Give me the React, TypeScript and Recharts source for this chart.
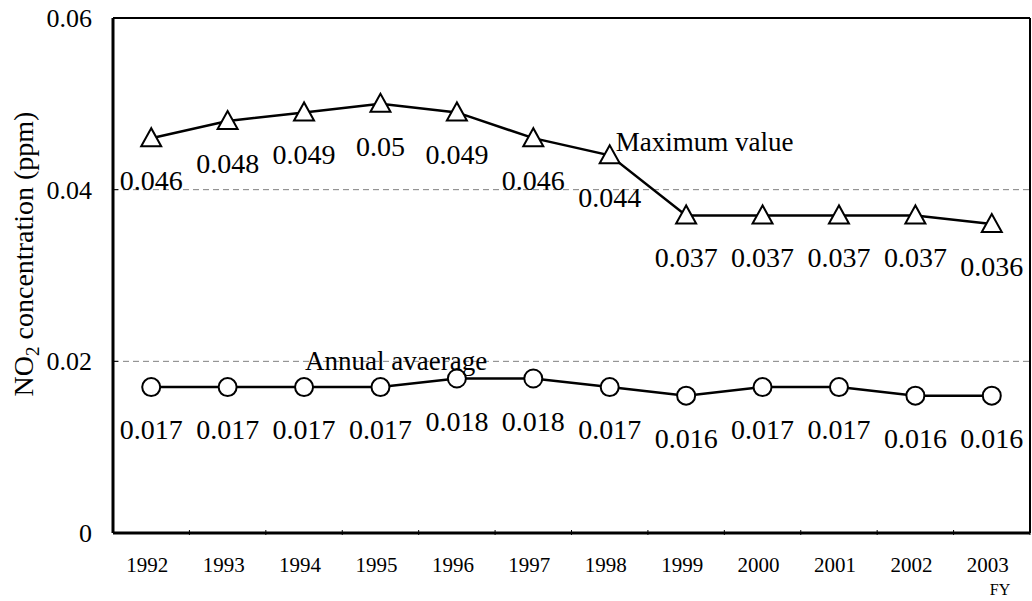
import React from 'react';
import {
  LineChart, Line, XAxis, YAxis, ReferenceLine, ReferenceDot, LabelList, Label,
} from 'recharts';

const categories = ['1992', '1993', '1994', '1995', '1996', '1997', '1998', '1999', '2000', '2001', '2002', '2003'];
const maxValues = [0.046, 0.048, 0.049, 0.05, 0.049, 0.046, 0.044, 0.037, 0.037, 0.037, 0.037, 0.036];
const avgValues = [0.017, 0.017, 0.017, 0.017, 0.018, 0.018, 0.017, 0.016, 0.017, 0.017, 0.016, 0.016];
const yTicks = [0, 0.02, 0.04, 0.06];
const yTickLabels = ['0', '0.02', '0.04', '0.06'];
const gridValues = [0.02, 0.04];
const maxSeriesName = 'Maximum value';
const avgSeriesName = 'Annual avaerage';
const yTitleMain = 'NO';
const yTitleSub = '2';
const yTitleRest = ' concentration (ppm)';
const xUnit = 'FY';

const data = categories.map((c, i) => ({ year: c, max: maxValues[i], avg: avgValues[i] }));

const W = 1032;
const H = 601;
const FONT = '"Liberation Serif", "Times New Roman", serif';
const LEFT = 113;
const RIGHT_W = 2;
const TOP_H = 18;
const PLOT_W = W - LEFT - RIGHT_W;
const HALF_BAND = PLOT_W / categories.length / 2;

const XTick = (props: any) => {
  const { x, y, payload } = props;
  const bx = x + HALF_BAND;
  return (
    <g>
      <line x1={bx} x2={bx} y1={y} y2={y - 5} stroke="#000" strokeWidth={1} />
      <text x={x - 4} y={y + 37} textAnchor="middle" fontFamily={FONT} fontSize={21} fill="#000">
        {payload.value}
      </text>
    </g>
  );
};

const YTick = (props: any) => {
  const { x, y, payload } = props;
  const idx = yTicks.indexOf(payload.value);
  const label = idx >= 0 ? yTickLabels[idx] : String(payload.value);
  return (
    <g>
      <line x1={LEFT} x2={LEFT + 5} y1={y} y2={y} stroke="#000" strokeWidth={1} />
      <text x={x} y={y + 9} textAnchor="end" fontFamily={FONT} fontSize={26} fill="#000">
        {label}
      </text>
    </g>
  );
};

const Triangle = (props: any) => {
  const { cx, cy } = props;
  if (cx == null || cy == null) return null;
  return (
    <polygon
      points={`${cx},${cy - 10} ${cx - 10},${cy + 8} ${cx + 10},${cy + 8}`}
      fill="#fff"
      stroke="#000"
      strokeWidth={2}
    />
  );
};

const Circle = (props: any) => {
  const { cx, cy } = props;
  if (cx == null || cy == null) return null;
  return <circle cx={cx} cy={cy} r={9} fill="#fff" stroke="#000" strokeWidth={2} />;
};

const ValueLabel = (props: any) => {
  const { x, y, value } = props;
  return (
    <text x={x} y={y + 52} textAnchor="middle" fontFamily={FONT} fontSize={28} fill="#000">
      {String(value)}
    </text>
  );
};

const SeriesName = (text: string, dx: number, dy: number) => (props: any) => {
  const vb = props.viewBox || {};
  const cx = (vb.x ?? 0) + (vb.width ?? 0) / 2;
  const cy = (vb.y ?? 0) + (vb.height ?? 0) / 2;
  return (
    <text x={cx + dx} y={cy + dy} textAnchor="start" fontFamily={FONT} fontSize={27} fill="#000">
      {text}
    </text>
  );
};

const YTitle = () => {
  const cx = 24;
  const cy = 254;
  return (
    <text
      transform={`rotate(-90, ${cx}, ${cy})`}
      x={cx}
      y={cy + 9}
      textAnchor="middle"
      fontFamily={FONT}
      fontSize={28}
      fill="#000"
    >
      {yTitleMain}
      <tspan dy={6} fontSize={19}>{yTitleSub}</tspan>
      <tspan dy={-6}>{yTitleRest}</tspan>
    </text>
  );
};

const XUnit = (props: any) => {
  const vb = props.viewBox || {};
  const x = (vb.x ?? 0) + (vb.width ?? 0) - 30;
  const y = (vb.y ?? 0) + 62;
  return (
    <text x={x} y={y} textAnchor="middle" fontFamily={FONT} fontSize={16} fill="#000">
      {xUnit}
    </text>
  );
};

export default function App() {
  return (
    <div style={{ position: 'absolute', left: 0, top: 0, width: W, height: H, background: '#fff' }}>
      <LineChart width={W} height={H} data={data} margin={{ top: 0, right: 0, bottom: 0, left: 0 }}>
        <XAxis
          dataKey="year"
          height={68}
          tick={<XTick />}
          tickLine={false}
          axisLine={{ stroke: '#000', strokeWidth: 3 }}
          interval={0}
          tickSize={0}
          padding={{ left: HALF_BAND, right: HALF_BAND }}
        >
          <Label content={<XUnit />} />
        </XAxis>
        <XAxis
          xAxisId="top"
          orientation="top"
          dataKey="year"
          height={TOP_H}
          tick={false}
          tickLine={false}
          axisLine={{ stroke: '#000', strokeWidth: 2 }}
          padding={{ left: HALF_BAND, right: HALF_BAND }}
        />
        <YAxis
          width={LEFT}
          domain={[0, 0.06]}
          ticks={yTicks}
          tick={<YTick />}
          tickLine={false}
          tickSize={0}
          tickMargin={21}
          axisLine={{ stroke: '#000', strokeWidth: 3 }}
          interval={0}
        >
          <Label content={<YTitle />} />
        </YAxis>
        <YAxis
          yAxisId="right"
          orientation="right"
          width={RIGHT_W}
          domain={[0, 0.06]}
          tick={false}
          tickLine={false}
          axisLine={{ stroke: '#000', strokeWidth: 2 }}
        />
        {gridValues.map((v) => (
          <ReferenceLine key={v} y={v} stroke="#808080" strokeDasharray="6 4" strokeWidth={1} />
        ))}
        <Line
          dataKey="max"
          stroke="#000"
          strokeWidth={2.5}
          dot={<Triangle />}
          activeDot={false}
          isAnimationActive={false}
        >
          <LabelList dataKey="max" content={<ValueLabel />} />
        </Line>
        <Line
          dataKey="avg"
          stroke="#000"
          strokeWidth={2.5}
          dot={<Circle />}
          activeDot={false}
          isAnimationActive={false}
        >
          <LabelList dataKey="avg" content={<ValueLabel />} />
        </Line>
        <ReferenceDot x="1998" y={0.044} r={0} fill="none" stroke="none" label={SeriesName(maxSeriesName, 6, -4)} />
        <ReferenceDot x="1994" y={0.02} r={0} fill="none" stroke="none" label={SeriesName(avgSeriesName, 1, 9)} />
      </LineChart>
    </div>
  );
}
